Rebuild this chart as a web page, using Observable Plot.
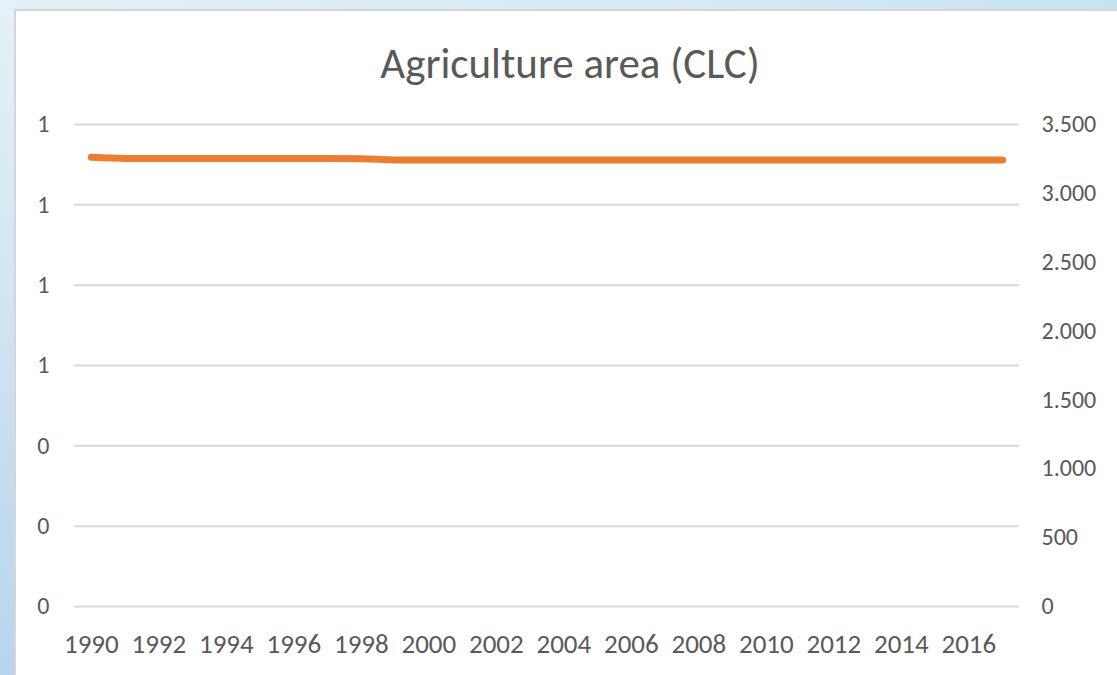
<!DOCTYPE html>
<html>
<head>
<meta charset="utf-8">
<script src="https://cdn.jsdelivr.net/npm/d3@7"></script>
<script src="https://cdn.jsdelivr.net/npm/@observablehq/plot@0.6"></script>
<style>
  html, body { margin: 0; padding: 0; }
  body {
    width: 1117px; height: 675px; overflow: hidden; position: relative;
    background: linear-gradient(90deg, #e4f0f7 0%, #d6eaf4 60%, #c6e3f1 100%);
  }
  #side {
    position: absolute; left: 0; top: 0; width: 16px; height: 675px;
    background: linear-gradient(180deg, #e6f1f8 0%, #cfe3f1 50%, #b6d5ec 100%);
  }
  #card {
    position: absolute; left: 14px; top: 9px; width: 1110px; height: 680px;
    background: #ffffff; border: 2px solid #d6d6d6; box-sizing: border-box;
  }
  #title {
    position: absolute; left: 0; top: 42px; width: 1140px; text-align: center;
    font-family: Carlito, Calibri, Lato, sans-serif; font-size: 43px; line-height: 1;
    color: #595959; font-weight: 400;
  }
  #chart { position: absolute; left: 0; top: 100px; }
</style>
</head>
<body>
<div id="side"></div>
<div id="card"></div>
<div id="title">Agriculture area (CLC)</div>
<div id="chart"></div>
<script>
// Agriculture area (CLC), yearly values on the secondary (right) axis
const years = [1990, 1991, 1992, 1993, 1994, 1995, 1996, 1997, 1998, 1999,
               2000, 2001, 2002, 2003, 2004, 2005, 2006, 2007, 2008, 2009,
               2010, 2011, 2012, 2013, 2014, 2015, 2016, 2017];
const area = [3262, 3254, 3253, 3253, 3253, 3253, 3253, 3253, 3252, 3243,
              3243, 3243, 3243, 3243, 3243, 3243, 3243, 3243, 3243, 3243,
              3243, 3243, 3243, 3243, 3243, 3243, 3243, 3243];

// Axis ticks: empty primary axis on the left (labels rounded to integers), area axis on the right
const leftTicks = [0, 0.2, 0.4, 0.6, 0.8, 1.0, 1.2];
const leftMax = 1.2;
const rightTicks = [0, 500, 1000, 1500, 2000, 2500, 3000, 3500];
const rightMax = 3500;
const xTicks = [1990, 1992, 1994, 1996, 1998, 2000, 2002, 2004, 2006, 2008, 2010, 2012, 2014, 2016];

const data = years.map((year, i) => ({year, area: area[i]}));
const toRight = (v) => v * rightMax / leftMax;
const leftPositions = leftTicks.map(toRight);
const dotted = d3.formatLocale({decimal: ",", thousands: ".", grouping: [3], currency: ["", ""]}).format(",");

const textColor = "#595959";
const font = "Carlito, Calibri, Lato, sans-serif";
const chart = Plot.plot({
  width: 1117,
  height: 560,
  marginTop: 24,
  marginBottom: 54,
  marginLeft: 74,
  marginRight: 98,
  style: {fontFamily: font, color: textColor, background: "transparent"},
  x: {domain: [years[0] - 0.5, years[years.length - 1] + 0.5]},
  y: {domain: [0, rightMax]},
  marks: [
    Plot.ruleY(leftPositions, {stroke: "#d9d9d9", strokeWidth: 2}),
    Plot.axisY(leftPositions, {
      anchor: "left", tickSize: 0, tickPadding: 25, label: null, fontSize: 24,
      tickFormat: (d) => d3.format(".0f")(d * leftMax / rightMax), fill: textColor
    }),
    Plot.axisY(rightTicks, {
      anchor: "right", tickSize: 0, tickPadding: 22, label: null, fontSize: 24,
      tickFormat: (d) => dotted(d), fill: textColor
    }),
    Plot.axisX(xTicks, {
      anchor: "bottom", tickSize: 0, tickPadding: 27, label: null, fontSize: 27,
      tickFormat: (d) => String(d), fill: textColor
    }),
    Plot.line(data, {
      x: "year", y: "area", stroke: "#ed7d31", strokeWidth: 7,
      strokeLinecap: "round", strokeLinejoin: "round", curve: "monotone-x"
    })
  ]
});
document.getElementById("chart").append(chart);
</script>
</body>
</html>
